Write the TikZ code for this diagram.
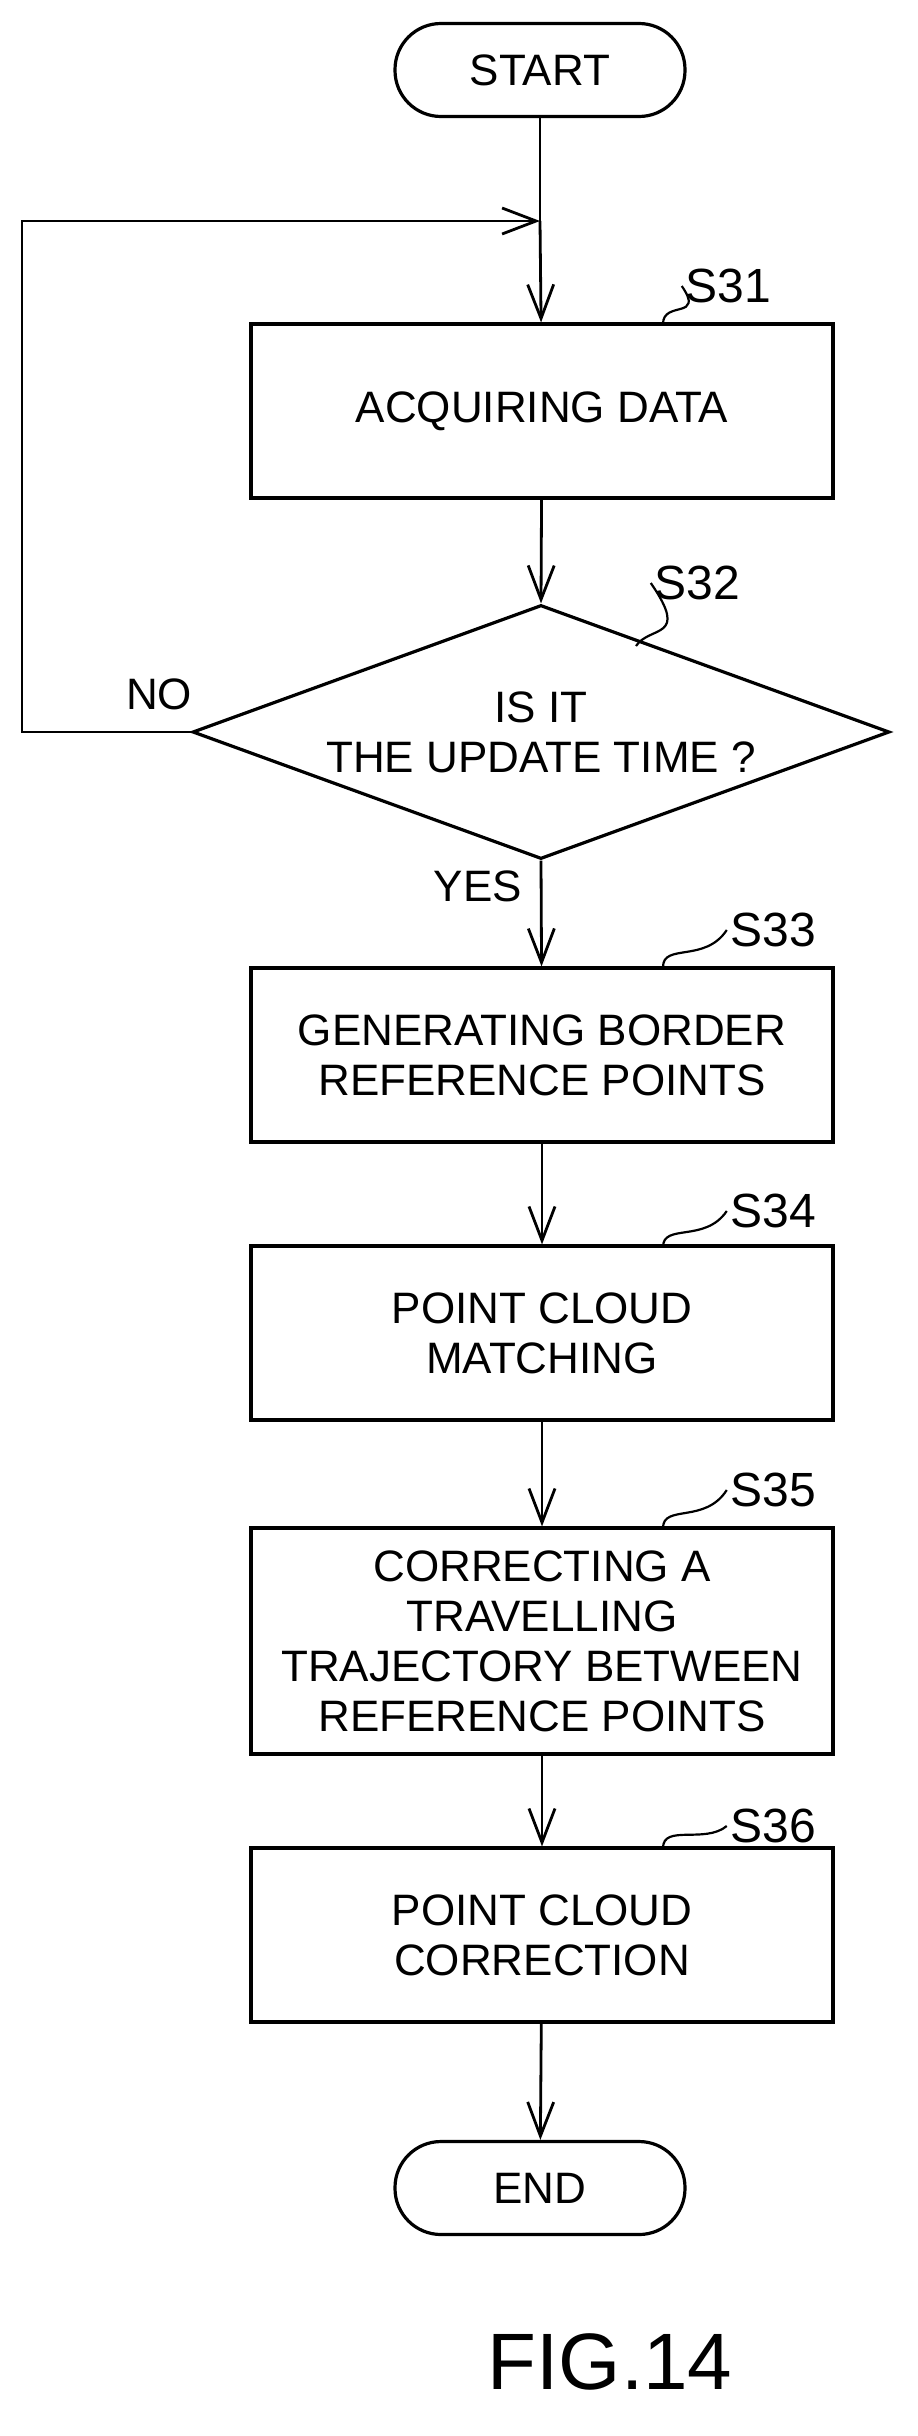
\documentclass[tikz,border=0pt]{standalone}
\usepackage{fontspec}
\setmainfont{Liberation Sans}
\usetikzlibrary{arrows.meta,shapes.geometric}
\tikzset{
  txt/.style={font=\fontsize{44}{50}\selectfont, align=center},
  procbox/.style={draw, line width=3.2pt, minimum width=582pt, minimum height=174pt, txt},
  term/.style={draw, line width=3.2pt, rounded corners=46pt, minimum width=290pt, minimum height=93pt, txt},
  flow/.style={line width=2.8pt, -{Straight Barb[length=34pt,width=26pt,line width=2.8pt]}},
  lead/.style={line width=2.2pt},
  tag/.style={font=\fontsize{48}{50}\selectfont}
}
\begin{document}
\begin{tikzpicture}[x=1pt,y=-1pt]
			\useasboundingbox (0,0) rectangle (918,2436);
			\node [term] (start) at (540,70) {START};
			\node [procbox] (s31) at (542,411) {ACQUIRING DATA};
			\node [draw, diamond, line width=3.2pt, minimum width=697pt, minimum height=254pt, inner sep=0pt, txt] (s32) at (541,732) {};
			\node [txt] (q) at (541,732) {IS IT\\THE UPDATE TIME ?};
			\node [procbox] (s33) at (542,1055) {GENERATING BORDER\\REFERENCE POINTS};
			\node [procbox] (s34) at (542,1333) {POINT CLOUD\\MATCHING};
			\node [procbox, minimum height=226pt] (s35) at (542,1641) {CORRECTING A\\TRAVELLING\\TRAJECTORY BETWEEN\\REFERENCE POINTS};
			\node [procbox] (s36) at (542,1935) {POINT CLOUD\\CORRECTION};
			\node [term] (end) at (540,2188) {END};
			\coordinate (join) at (540,221);
			\coordinate (back) at (22,221);
			% connectors
			\draw [line width=2.8pt] (start) -- (join);
			\draw [flow] (join) -- (s31);
			\draw [flow] (s31) -- (s32.north);
			\draw [flow] (s32.south) -- (s33);
			\draw [flow] (s33) -- (s34);
			\draw [flow] (s34) -- (s35);
			\draw [flow] (s35) -- (s36);
			\draw [flow] (s36) -- (end);
			\draw [flow] (s32.west) -- (back |- s32.west) -- (back) -- (join);
			\node [txt] (no) at (159,694) {NO};
			\node [txt] (yes) at (478,886) {YES};
			% step labels
			\node [tag] (l31) at (728,286) {S31};
			\node [tag] (l32) at (697,583) {S32};
			\node [tag] (l33) at (773,930) {S33};
			\node [tag] (l34) at (773,1211) {S34};
			\node [tag] (l35) at (773,1490) {S35};
			\node [tag] (l36) at (773,1826) {S36};
			\draw [lead] (663,324) .. controls (663,300) and (705,320) .. (l31.west);
			\draw [lead] (636,646) .. controls (650,625) and (690,640) .. (l32.west);
			\draw [lead] (663,967) .. controls (663,943) and (705,963) .. (l33.west);
			\draw [lead] (663,1247) .. controls (663,1223) and (705,1243) .. (l34.west);
			\draw [lead] (663,1528) .. controls (663,1504) and (705,1524) .. (l35.west);
			\draw [lead] (663,1848) .. controls (663,1824) and (705,1844) .. (l36.west);
			\node [font=\fontsize{80}{90}\selectfont] (fig) at (610,2362) {FIG.14};
\end{tikzpicture}
\end{document}
